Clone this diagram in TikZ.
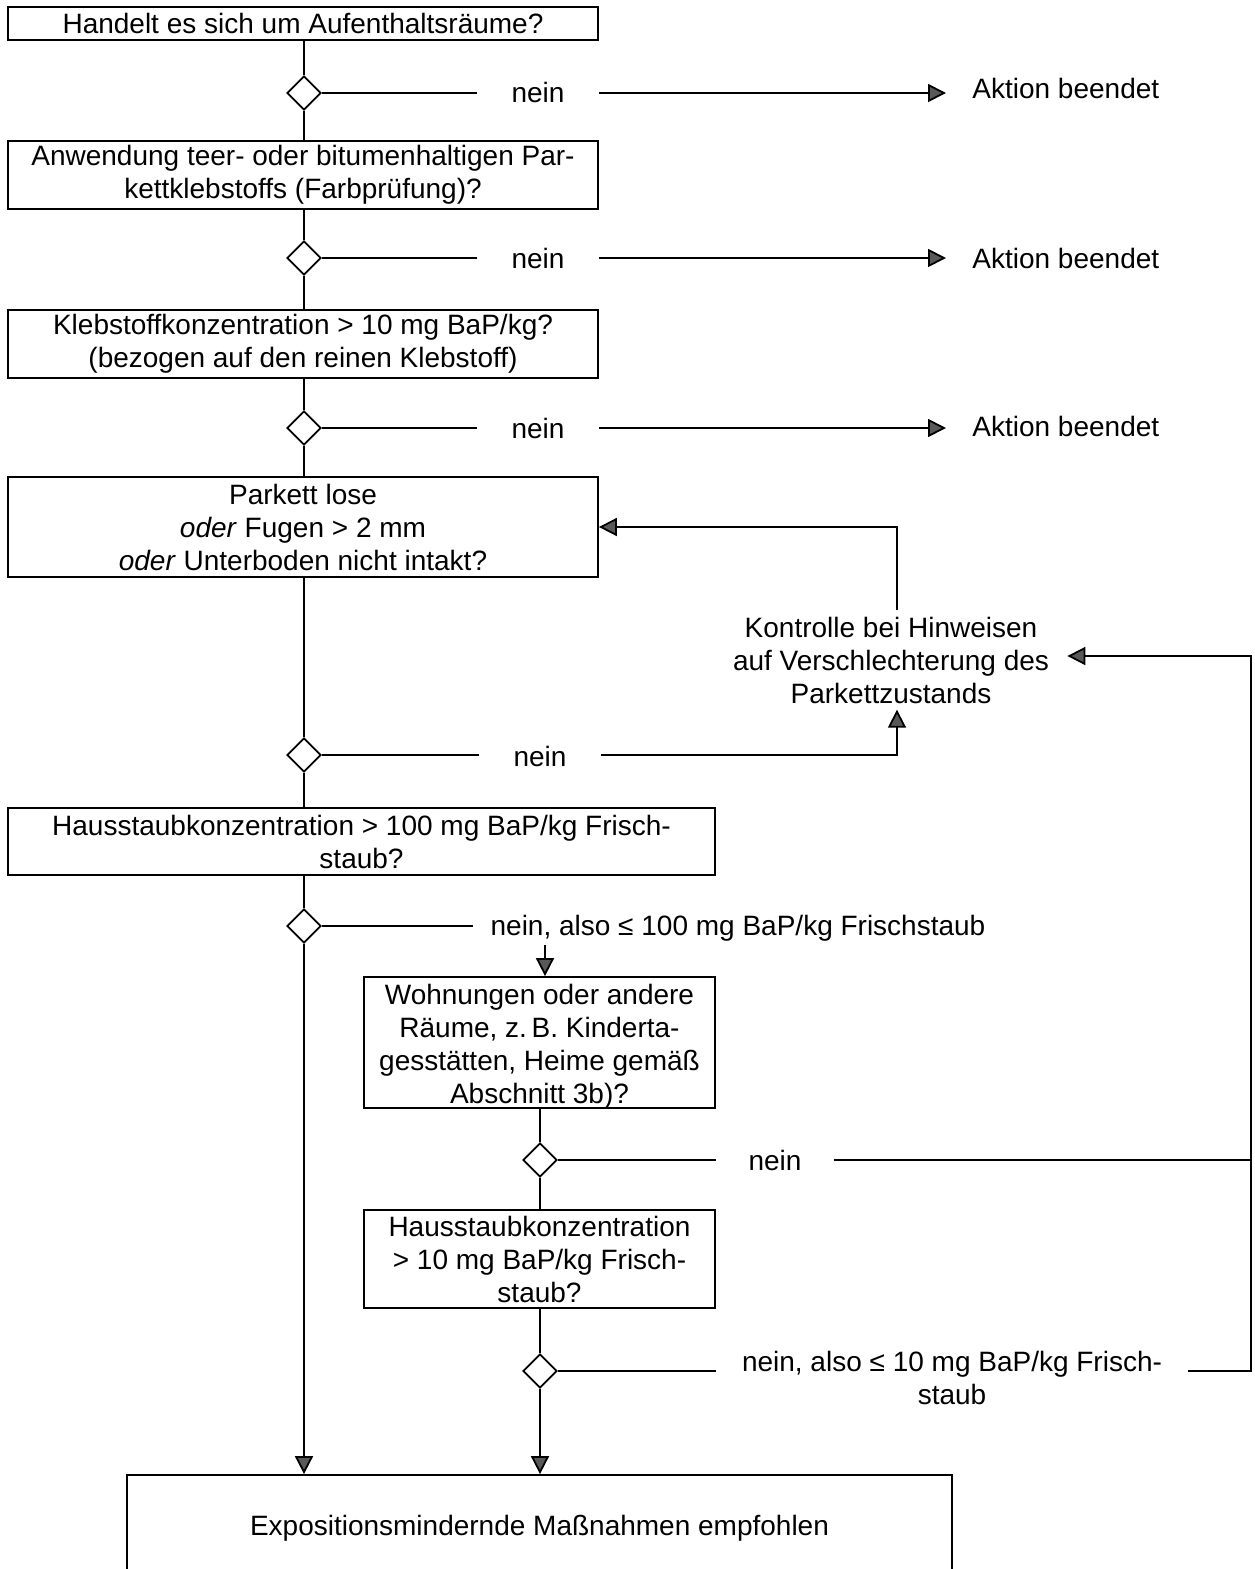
\documentclass[tikz,border=0pt]{standalone}
\usepackage{fontspec}
\setmainfont{Liberation Sans}
\usetikzlibrary{arrows.meta,shapes.geometric}
\begin{document}
\begin{tikzpicture}[x=0.5pt,y=-0.5pt,
  every node/.style={font=\fontsize{14pt}{16.5pt}\selectfont},
  box/.style={draw,line width=0.9pt,align=center,inner sep=0pt},
  dia/.style={draw,diamond,aspect=1,minimum width=17pt,minimum height=17pt,inner sep=0pt,line width=0.9pt},
  ln/.style={line width=0.9pt},
  arr/.style={line width=0.9pt,-{Triangle[length=9pt,width=9pt,fill=black!65]}},
  lbl/.style={inner ysep=2pt,align=center},
]
\useasboundingbox (0,0) rectangle (1254,1569);
% boxes
\node[box,minimum width=295pt,minimum height=16.5pt] (b1) at (303,23.5) {Handelt es sich um Aufenthaltsräume?};
\node[box,minimum width=295pt,minimum height=34pt] (b2) at (303,175) {Anwendung teer- oder bitumenhaltigen Par-\\kettklebstoffs (Farbprüfung)?};
\node[box,minimum width=295pt,minimum height=34pt] (b3) at (303,344) {Klebstoffkonzentration > 10 mg BaP/kg?\\(bezogen auf den reinen Klebstoff)};
\node[box,minimum width=295pt,minimum height=50pt] (b4) at (303,527) {Parkett lose\\\textit{oder} Fugen > 2 mm\\\textit{oder} Unterboden nicht intakt?};
\node[box,minimum width=353.5pt,minimum height=33.5pt] (b5) at (361.5,841.5) {Hausstaubkonzentration > 100 mg BaP/kg Frisch-\\staub?};
\node[box,minimum width=175.5pt,minimum height=65.5pt] (b6) at (539.5,1042.5) {};
\node[lbl] (b6t) at (539.5,1047) {Wohnungen oder andere\\Räume, z.\,B. Kinderta-\\gesstätten, Heime gemäß\\Abschnitt 3b)?};
\node[box,minimum width=175.5pt,minimum height=49pt] (b7) at (539.5,1259) {Hausstaubkonzentration\\> 10 mg BaP/kg Frisch-\\staub?};
\node[box,minimum width=412.5pt,minimum height=53pt] (b8) at (539.5,1528) {Expositionsmindernde Maßnahmen empfohlen};
% diamonds
\node[dia] (d1) at (304,93) {};
\node[dia] (d2) at (304,258) {};
\node[dia] (d3) at (304,428) {};
\node[dia] (d4) at (304,755) {};
\node[dia] (d5) at (304,926) {};
\node[dia] (d6) at (540,1160) {};
\node[dia] (d7) at (540,1371) {};
% labels
\node[lbl,inner xsep=17pt] (n1) at (538,92) {nein};
\node[lbl,inner xsep=17pt] (n2) at (538,258) {nein};
\node[lbl,inner xsep=17pt] (n3) at (538,428) {nein};
\node[lbl,inner xsep=17pt] (n4) at (540,756) {nein};
\node[lbl,inner xsep=8.5pt] (n5) at (738,928) {nein, also ≤ 100 mg BaP/kg Frischstaub};
\node[lbl,inner xsep=16pt] (n6) at (775,1160) {nein};
\node[lbl,inner xsep=13pt] (n7) at (952,1378) {nein, also ≤ 10 mg BaP/kg Frisch-\\staub};
\node[lbl,inner xsep=13pt,anchor=west] (a1) at (946,88) {Aktion beendet};
\node[lbl,inner xsep=13pt,anchor=west] (a2) at (946,258) {Aktion beendet};
\node[lbl,inner xsep=13pt,anchor=west] (a3) at (946,426) {Aktion beendet};
\node[lbl,inner xsep=9pt,inner ysep=3pt] (k) at (891,660) {Kontrolle bei Hinweisen\\auf Verschlechterung des\\Parkettzustands};
\coordinate (r) at (1251,656);
\coordinate (c5) at (545,945);
% main vertical
\draw[ln] (d1 |- b1.south) -- (d1.north);
\draw[ln] (d1.south) -- (d1 |- b2.north);
\draw[ln] (d2 |- b2.south) -- (d2.north);
\draw[ln] (d2.south) -- (d2 |- b3.north);
\draw[ln] (d3 |- b3.south) -- (d3.north);
\draw[ln] (d3.south) -- (d3 |- b4.north);
\draw[ln] (d4 |- b4.south) -- (d4.north);
\draw[ln] (d4.south) -- (d4 |- b5.north);
\draw[ln] (d5 |- b5.south) -- (d5.north);
\draw[arr] (d5.south) -- (d5 |- b8.north);
\draw[ln] (d6 |- b6.south) -- (d6.north);
\draw[ln] (d6.south) -- (d6 |- b7.north);
\draw[ln] (d7 |- b7.south) -- (d7.north);
\draw[arr] (d7.south) -- (d7 |- b8.north);
% nein branches
\draw[ln] (d1.east) -- (d1 -| n1.west);
\draw[arr] (d1 -| n1.east) -- (d1 -| a1.west);
\draw[ln] (d2.east) -- (n2.west);
\draw[arr] (n2.east) -- (n2.east -| a2.west);
\draw[ln] (d3.east) -- (n3.west);
\draw[arr] (n3.east) -- (n3.east -| a3.west);
\draw[ln] (d4.east) -- (d4 -| n4.west);
\draw[arr] (d4 -| n4.east) -| ([xshift=3pt]k.south);
\draw[arr] ([xshift=3pt]k.north) |- (b4.east);
\draw[ln] (d5.east) -- (d5 -| n5.west);
\draw[arr] (c5 |- n5.south) -- (c5 |- b6.north);
\draw[ln] (d6.east) -- (n6.west);
\draw[ln] (n6.east) -- (n6 -| r);
\draw[ln] (d7.east) -- (d7 -| n7.west);
\draw[arr] (d7 -| n7.east) -- (d7 -| r) -- (r) -- (k.east |- r);
\end{tikzpicture}
\end{document}
